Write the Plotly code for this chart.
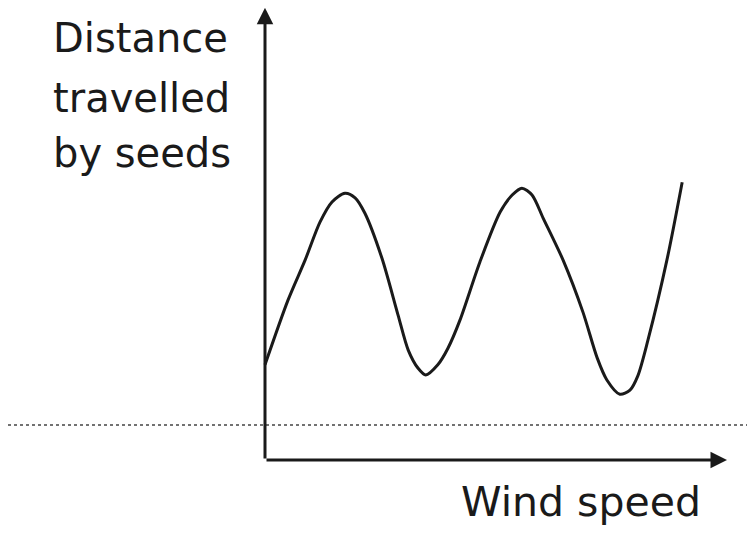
import plotly.graph_objects as go

# Sketch data (wind speed vs distance, arbitrary units)
wind_speed = [0.00, 0.50, 0.87, 1.19, 1.45, 1.73, 1.95, 2.16, 2.53, 2.88, 3.10, 3.31,
              3.48, 3.74, 3.96, 4.22, 4.65, 5.09, 5.35, 5.56, 5.78, 6.02, 6.45, 6.88,
              7.19, 7.40, 7.68, 7.90, 8.07, 8.29, 8.70, 9.03]
distance = [2.07, 3.48, 4.35, 5.17, 5.61, 5.80, 5.70, 5.37, 4.39, 3.15, 2.39, 2.00,
            1.85, 2.07, 2.43, 3.04, 4.30, 5.39, 5.76, 5.91, 5.76, 5.26, 4.35, 3.22,
            2.22, 1.74, 1.43, 1.52, 1.83, 2.61, 4.35, 6.04]
threshold = 0.76
x_axis_end = 10.0
y_axis_end = 9.83
y_label_lines = ["Distance", "travelled", "by seeds"]
x_label = "Wind speed"

ink = "#1a1a1a"

fig = go.Figure()
fig.add_trace(go.Scatter(
    x=wind_speed, y=distance, mode="lines",
    line=dict(color=ink, width=3, shape="spline", smoothing=0.8),
    hoverinfo="skip", showlegend=False,
))

# dotted horizontal line
fig.add_shape(type="line", xref="paper", x0=0, x1=1, yref="y", y0=threshold, y1=threshold,
              line=dict(color="#444444", width=1.6, dash="dot"))

# axes with arrows
fig.add_annotation(x=x_axis_end, y=0, ax=0, ay=0, xref="x", yref="y", axref="x", ayref="y",
                   showarrow=True, arrowhead=2, arrowsize=1.1, arrowwidth=3, arrowcolor=ink, text="")
fig.add_annotation(x=0, y=y_axis_end, ax=0, ay=0, xref="x", yref="y", axref="x", ayref="y",
                   showarrow=True, arrowhead=2, arrowsize=1.1, arrowwidth=3, arrowcolor=ink, text="")

font_l = dict(family="DejaVu Sans", size=40, color=ink)
for txt, yy in zip(y_label_lines, [9.17, 7.87, 6.67]):
    fig.add_annotation(x=-4.63, y=yy, xref="x", yref="y", text=txt, showarrow=False,
                       xanchor="left", yanchor="middle", font=font_l)

fig.add_annotation(x=6.85, y=-0.91, xref="x", yref="y", text=x_label, showarrow=False,
                   xanchor="center", yanchor="middle",
                   font=dict(family="DejaVu Sans", size=41, color=ink))

fig.update_layout(
    width=739, height=517,
    margin=dict(l=0, r=0, t=0, b=0),
    paper_bgcolor="white", plot_bgcolor="white",
    xaxis=dict(range=[(8 - 265) / 46.2, (747 - 265) / 46.2], visible=False, fixedrange=True),
    yaxis=dict(range=[(460 - 525) / 46, (460 - 8) / 46], visible=False, fixedrange=True),
    showlegend=False,
)

fig.write_html("out.html")
